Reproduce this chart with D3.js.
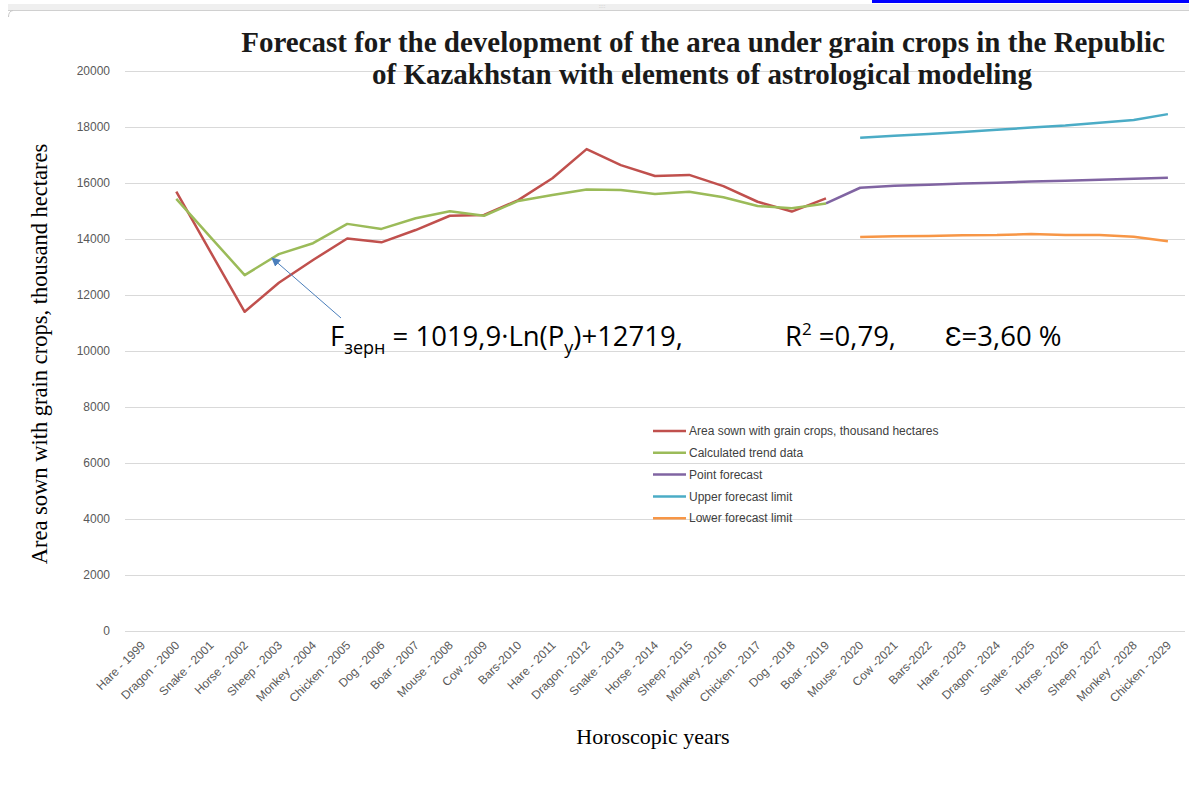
<!DOCTYPE html>
<html>
<head>
<meta charset="utf-8">
<script src="https://cdn.jsdelivr.net/npm/d3@7"></script>
<style>
  body { margin: 0; background: #fff; }
  svg { display: block; }
</style>
</head>
<body>
<div id="chart"></div>
<script>
/* categories (horoscopic years) */
var years = ["Hare - 1999","Dragon - 2000","Snake - 2001","Horse - 2002","Sheep - 2003","Monkey - 2004",
  "Chicken - 2005","Dog - 2006","Boar - 2007","Mouse - 2008","Cow -2009","Bars-2010","Hare - 2011",
  "Dragon - 2012","Snake - 2013","Horse - 2014","Sheep - 2015","Monkey - 2016","Chicken - 2017",
  "Dog - 2018","Boar - 2019","Mouse - 2020","Cow -2021","Bars-2022","Hare - 2023","Dragon - 2024",
  "Snake - 2025","Horse - 2026","Sheep - 2027","Monkey - 2028","Chicken - 2029"];

/* series values, thousand hectares (null = no value) */
var actual = [null,15690,13540,11400,12440,13250,14020,13880,14320,14830,14860,15390,16170,17210,16640,
  16250,16290,15890,15330,14980,15450,null,null,null,null,null,null,null,null,null,null];
var trend = [null,15430,14070,12710,13460,13850,14540,14360,14740,14990,14830,15360,15570,15770,15750,
  15610,15690,15490,15180,15100,15270,null,null,null,null,null,null,null,null,null,null];
var pointForecast = [null,null,null,null,null,null,null,null,null,null,null,null,null,null,null,null,
  null,null,null,null,15270,15830,15900,15940,15980,16010,16050,16080,16120,16150,16190];
var upperLimit = [null,null,null,null,null,null,null,null,null,null,null,null,null,null,null,null,
  null,null,null,null,null,17620,17690,17750,17820,17900,17980,18050,18150,18250,18460];
var lowerLimit = [null,null,null,null,null,null,null,null,null,null,null,null,null,null,null,null,
  null,null,null,null,null,14070,14100,14110,14130,14140,14180,14140,14140,14080,13920];

var seriesNames = ["Area sown with grain crops, thousand hectares","Calculated trend data",
  "Point forecast","Upper forecast limit","Lower forecast limit"];
var seriesColors = ["#c0504d","#9bbb59","#8064a2","#4bacc6","#f79646"];
var yTicks = [0,2000,4000,6000,8000,10000,12000,14000,16000,18000,20000];

var width = 1189, height = 789;
var plotLeft = 125, plotRight = 1185, plotTop = 71, plotBottom = 631;

var svg = d3.select("#chart").append("svg")
    .attr("width", width)
    .attr("height", height);

/* window frame bits at the top of the screenshot */
svg.append("rect").attr("x", 872).attr("y", 0).attr("width", 317).attr("height", 3).attr("fill", "#0000ff");
svg.append("rect").attr("x", 8).attr("y", 4).attr("width", 1181).attr("height", 6).attr("fill", "#efefef");
svg.append("line").attr("x1", 8).attr("x2", 1189).attr("y1", 10.5).attr("y2", 10.5)
    .attr("stroke", "#d0d0d0").attr("stroke-width", 1);
svg.append("path").attr("d", "M8.5,17 Q8.5,11 13,10.5").attr("fill", "none").attr("stroke", "#c8c8c8");
svg.append("text").attr("x", 602).attr("y", 8).attr("text-anchor", "middle")
    .attr("font-family", "DejaVu Sans").attr("font-size", 5).attr("fill", "#aaa").text("::::");

var x = d3.scalePoint().domain(years).range([plotLeft, plotRight]).padding(0.5);
var y = d3.scaleLinear().domain([0, 20000]).range([plotBottom, plotTop]);

/* gridlines */
svg.append("g").selectAll("line").data(yTicks).join("line")
    .attr("x1", plotLeft).attr("x2", plotRight)
    .attr("y1", function (d) { return y(d) + 0.5; })
    .attr("y2", function (d) { return y(d) + 0.5; })
    .attr("stroke", "#d9d9d9").attr("stroke-width", 1);

/* y axis tick labels */
svg.append("g").selectAll("text").data(yTicks).join("text")
    .attr("x", 110).attr("y", function (d) { return y(d); })
    .attr("dy", "0.35em").attr("text-anchor", "end")
    .attr("font-family", "Liberation Sans, Arial, sans-serif").attr("font-size", 12)
    .attr("fill", "#595959")
    .text(function (d) { return d; });

/* x axis tick labels */
svg.append("g").selectAll("text").data(years).join("text")
    .attr("transform", function (d) { return "translate(" + (x(d) + 4) + ",646) rotate(-45)"; })
    .attr("text-anchor", "end")
    .attr("font-family", "Liberation Sans, Arial, sans-serif").attr("font-size", 12)
    .attr("fill", "#595959")
    .text(function (d) { return d; });

/* series lines */
var allSeries = [actual, trend, pointForecast, upperLimit, lowerLimit];
var line = d3.line()
    .defined(function (d) { return d != null; })
    .x(function (d, i) { return x(years[i]); })
    .y(function (d) { return y(d); });

var drawOrder = [3, 4, 2, 0, 1];
drawOrder.forEach(function (k) {
    svg.append("path")
        .attr("d", line(allSeries[k]))
        .attr("fill", "none")
        .attr("stroke", seriesColors[k])
        .attr("stroke-width", 2.5)
        .attr("stroke-linejoin", "round");
});

/* legend */
var legend = svg.append("g").attr("transform", "translate(653,431)");
seriesNames.forEach(function (name, i) {
    var row = legend.append("g").attr("transform", "translate(0," + (i * 21.8) + ")");
    row.append("line").attr("x1", 0).attr("x2", 33).attr("y1", 0).attr("y2", 0)
        .attr("stroke", seriesColors[i]).attr("stroke-width", 2.5);
    row.append("text").attr("x", 36).attr("y", 0).attr("dy", "0.35em")
        .attr("font-family", "Liberation Sans, Arial, sans-serif").attr("font-size", 12)
        .attr("fill", "#404040").text(name);
});

/* arrow pointing at the trend line */
svg.append("defs").append("marker")
    .attr("id", "arrowHead")
    .attr("viewBox", "0 0 10 10").attr("refX", 9).attr("refY", 5)
    .attr("markerWidth", 9).attr("markerHeight", 9)
    .attr("orient", "auto")
    .append("path").attr("d", "M0,0 L10,5 L0,10 z").attr("fill", "#4a7ebb");
svg.append("line")
    .attr("x1", 341).attr("y1", 318).attr("x2", 272).attr("y2", 258)
    .attr("stroke", "#4a7ebb").attr("stroke-width", 1)
    .attr("marker-end", "url(#arrowHead)");

/* formula */
var formula = svg.append("text")
    .attr("font-family", "Open Sans, Liberation Sans, sans-serif").attr("font-size", 27.5)
    .attr("fill", "#000").attr("y", 346);
formula.append("tspan").attr("x", 330).text("F");
formula.append("tspan").attr("font-size", 18).attr("dy", 8).text("зерн");
formula.append("tspan").attr("dy", -8).text(" = 1019,9·Ln(P");
formula.append("tspan").attr("font-size", 18).attr("dy", 8).text("y");
formula.append("tspan").attr("dy", -8).text(")+12719,");
var r2 = svg.append("text")
    .attr("font-family", "Open Sans, Liberation Sans, sans-serif").attr("font-size", 27.5)
    .attr("fill", "#000").attr("x", 785).attr("y", 346);
r2.append("tspan").text("R");
r2.append("tspan").attr("font-size", 17).attr("dy", -11).text("2");
r2.append("tspan").attr("dy", 11).text(" =0,79,");
svg.append("text")
    .attr("font-family", "Open Sans, Liberation Sans, sans-serif").attr("font-size", 27.5)
    .attr("fill", "#000").attr("x", 945).attr("y", 346).text("Ɛ=3,60 %");

/* title */
var title = svg.append("text")
    .attr("text-anchor", "middle")
    .attr("font-family", "Liberation Serif, Times New Roman, serif")
    .attr("font-weight", "bold").attr("font-size", 29).attr("fill", "#1a1a1a");
title.append("tspan").attr("x", 703).attr("y", 52)
    .text("Forecast for the development of the area under grain crops in the Republic");
title.append("tspan").attr("x", 702).attr("y", 84)
    .text("of Kazakhstan with elements of astrological modeling");

/* axis titles */
svg.append("text")
    .attr("transform", "translate(47,354) rotate(-90)")
    .attr("text-anchor", "middle")
    .attr("font-family", "Liberation Serif, Times New Roman, serif").attr("font-size", 22.5)
    .attr("fill", "#000")
    .text("Area sown with grain crops, thousand hectares");
svg.append("text")
    .attr("x", 653).attr("y", 744)
    .attr("text-anchor", "middle")
    .attr("font-family", "Liberation Serif, Times New Roman, serif").attr("font-size", 22)
    .attr("fill", "#000")
    .text("Horoscopic years");
</script>
</body>
</html>
